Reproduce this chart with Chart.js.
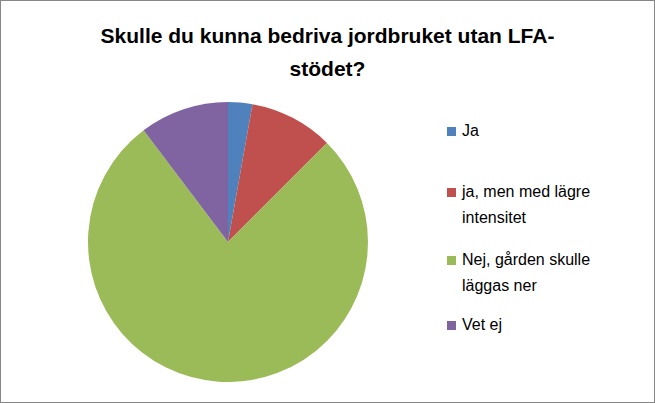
<!DOCTYPE html>
<html><head><meta charset="utf-8">
<script src="https://cdn.jsdelivr.net/npm/chart.js@4"></script>
<style>
body{margin:0;background:#fff;font-family:"Liberation Sans",Arial,sans-serif}
#frame{position:absolute;left:0;top:0;width:653px;height:401px;border:1px solid #868686}
#title{position:absolute;left:40px;width:575px;top:19px;text-align:center;font-weight:bold;font-size:21px;line-height:33px;color:#000}
#pieBox{position:absolute;left:88px;top:102px;width:280px;height:280px}
.leg{position:absolute;left:462px;font-size:16px;line-height:26px;color:#000}
.sw{position:absolute;left:-15px;top:9px;width:9px;height:9px}
</style></head><body>
<div id="frame"></div>
<div id="title">Skulle du kunna bedriva jordbruket utan LFA-<br>stödet?</div>
<div id="pieBox"><canvas id="pie"></canvas></div>
<div id="legend"></div>
<script>
const labels = ['Ja', 'ja, men med lägre intensitet', 'Nej, gården skulle läggas ner', 'Vet ej'];
const legendLines = [['Ja'], ['ja, men med lägre', 'intensitet'], ['Nej, gården skulle', 'läggas ner'], ['Vet ej']];
const values = [2.8, 9.7, 77.2, 10.3];
const colors = ['#4F81BD', '#C0504D', '#9BBB59', '#8064A2'];
const legendTops = [118, 179, 247, 312];

new Chart(document.getElementById('pie'), {
  type: 'pie',
  data: { labels: labels, datasets: [{ data: values, backgroundColor: colors, borderWidth: 0 }] },
  options: {
    responsive: true, maintainAspectRatio: false, animation: false,
    plugins: { legend: { display: false }, tooltip: { enabled: false } }
  }
});

const leg = document.getElementById('legend');
legendLines.forEach((lines, i) => {
  const d = document.createElement('div');
  d.className = 'leg';
  d.style.top = legendTops[i] + 'px';
  d.innerHTML = `<span class="sw" style="background:${colors[i]}"></span>` + lines.join('<br>');
  leg.appendChild(d);
});
</script>
</body></html>
